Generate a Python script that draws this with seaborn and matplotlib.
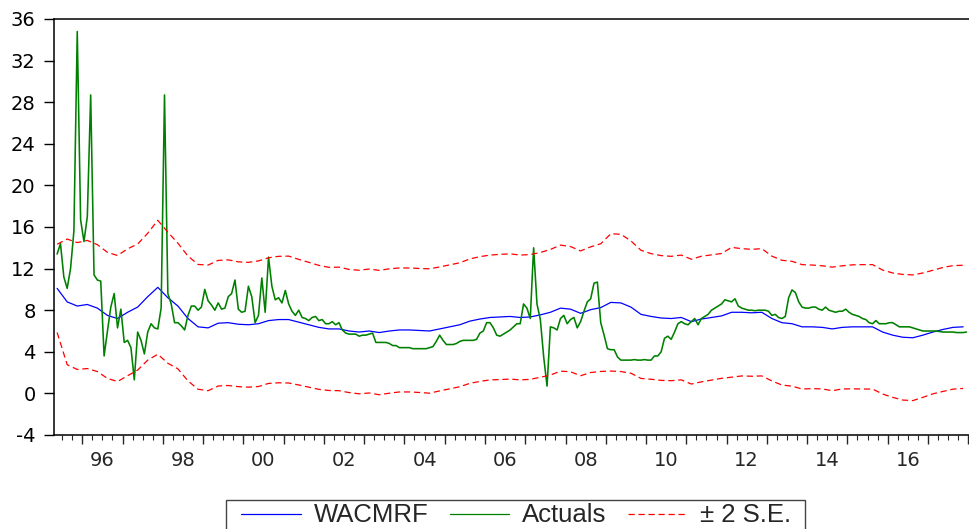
import numpy as np
import pandas as pd
import seaborn as sns
import matplotlib.pyplot as plt
from matplotlib.lines import Line2D
from matplotlib.patches import Rectangle
from matplotlib.ticker import MultipleLocator, NullFormatter, FuncFormatter

# Weighted average call money rate: monthly actuals, May 1995 - Dec 2017
start_year, start_month = 1995, 5
actuals = [
    13.4, 14.4, 11.2, 10.1, 12.0, 15.6, 34.8, 16.7, 14.6, 17.0,
    28.7, 11.4, 10.9, 10.8, 3.6, 6.0, 8.3, 9.6, 6.3, 8.1,
    4.9, 5.1, 4.4, 1.3, 5.9, 5.1, 3.8, 5.9, 6.7, 6.3,
    6.2, 8.2, 28.7, 9.6, 8.6, 6.8, 6.8, 6.5, 6.1, 7.5,
    8.4, 8.4, 8.0, 8.3, 10.0, 8.9, 8.5, 8.0, 8.7, 8.1,
    8.2, 9.3, 9.6, 10.9, 8.1, 7.8, 7.9, 10.3, 9.3, 6.8,
    7.5, 11.1, 7.8, 13.1, 10.3, 9.0, 9.2, 8.7, 9.9, 8.6,
    7.9, 7.5, 8.0, 7.3, 7.2, 7.0, 7.3, 7.4, 7.0, 7.1,
    6.7, 6.7, 6.9, 6.6, 6.8, 6.1, 5.8, 5.7, 5.7, 5.7,
    5.5, 5.6, 5.6, 5.7, 5.8, 4.9, 4.9, 4.9, 4.9, 4.8,
    4.6, 4.6, 4.4, 4.4, 4.4, 4.4, 4.3, 4.3, 4.3, 4.3,
    4.3, 4.4, 4.5, 5.0, 5.6, 5.1, 4.7, 4.7, 4.7, 4.8,
    5.0, 5.1, 5.1, 5.1, 5.1, 5.2, 5.8, 6.0, 6.8, 6.8,
    6.3, 5.6, 5.5, 5.7, 5.9, 6.1, 6.4, 6.7, 6.7, 8.6,
    8.2, 7.2, 14.0, 8.6, 7.1, 3.5, 0.7, 6.4, 6.3, 6.1,
    7.2, 7.5, 6.7, 7.1, 7.3, 6.3, 6.9, 7.9, 8.8, 9.1,
    10.6, 10.7, 6.8, 5.6, 4.3, 4.2, 4.2, 3.5, 3.2, 3.2,
    3.2, 3.2, 3.25, 3.2, 3.2, 3.25, 3.2, 3.2, 3.6, 3.6,
    4.0, 5.3, 5.5, 5.2, 5.9, 6.7, 6.9, 6.7, 6.6, 6.9,
    7.2, 6.6, 7.2, 7.4, 7.6, 8.0, 8.2, 8.4, 8.6, 9.0,
    8.9, 8.8, 9.1, 8.4, 8.2, 8.1, 8.0, 8.0, 7.95, 8.0,
    8.0, 8.0, 7.9, 7.5, 7.6, 7.3, 7.2, 7.4, 9.2, 9.95,
    9.7, 8.8, 8.3, 8.2, 8.2, 8.3, 8.3, 8.1, 8.0, 8.3,
    8.0, 7.9, 7.8, 7.9, 7.9, 8.1, 7.8, 7.6, 7.5, 7.4,
    7.2, 7.1, 6.8, 6.7, 7.0, 6.7, 6.7, 6.7, 6.8, 6.8,
    6.6, 6.4, 6.4, 6.4, 6.4, 6.3, 6.2, 6.1, 6.0, 6.0,
    6.0, 6.0, 6.0, 5.95, 5.9, 5.9, 5.9, 5.9, 5.85, 5.85,
    5.85, 5.9,
]

# Fitted WACMRF and its standard error, every third month from May 1995
forecast = [
    10.1, 8.8, 8.4, 8.55, 8.2, 7.5, 7.2, 7.8, 8.3, 9.3,
    10.2, 9.2, 8.4, 7.2, 6.4, 6.3, 6.75, 6.8, 6.65, 6.6,
    6.7, 7.0, 7.1, 7.1, 6.85, 6.6, 6.35, 6.2, 6.2, 6.0,
    5.9, 6.0, 5.85, 6.0, 6.1, 6.1, 6.05, 6.0, 6.2, 6.4,
    6.6, 6.95, 7.15, 7.3, 7.35, 7.4, 7.3, 7.35, 7.55, 7.8,
    8.2, 8.1, 7.7, 8.05, 8.25, 8.75, 8.7, 8.3, 7.6, 7.4,
    7.25, 7.2, 7.3, 6.9, 7.15, 7.3, 7.45, 7.8, 7.8, 7.75,
    7.8, 7.2, 6.8, 6.7, 6.4, 6.4, 6.35, 6.2, 6.35, 6.4,
    6.4, 6.4, 5.9, 5.6, 5.4, 5.35, 5.6, 5.9, 6.15, 6.35,
    6.4,
]
forecast_se = [
    2.12, 3.02, 3.05, 3.08, 3.05, 3.03, 3.03, 3.05, 3.03, 3.05,
    3.22, 3.15, 3.02, 3.0, 3.0, 3.02, 3.02, 3.02, 3.0, 3.0,
    3.02, 3.02, 3.04, 3.05, 3.02, 3.0, 2.98, 2.96, 2.97, 2.96,
    2.97, 2.98, 2.99, 2.99, 2.98, 2.98, 2.98, 2.99, 2.98, 2.98,
    2.98, 2.99, 3.0, 3.0, 3.01, 3.01, 3.0, 3.0, 3.0, 3.02,
    3.03, 3.01, 3.0, 3.02, 3.07, 3.3, 3.3, 3.18, 3.08, 3.02,
    3.0, 2.99, 3.0, 3.0, 3.02, 3.01, 3.0, 3.12, 3.06, 3.05,
    3.06, 3.0, 3.0, 3.0, 2.99, 2.97, 2.96, 2.97, 2.96, 2.98,
    2.99, 2.99, 2.98, 2.99, 3.02, 3.02, 2.99, 2.97, 2.98, 2.97,
    2.96,
]

year_labels = ["96", "98", "00", "02", "04", "06", "08", "10", "12", "14", "16"]
label_years = [1996, 1998, 2000, 2002, 2004, 2006, 2008, 2010, 2012, 2014, 2016]
y_ticks = [-4, 0, 4, 8, 12, 16, 20, 24, 28, 32, 36]

# Decimal-year positions (centre of each month)
t0 = start_year + (start_month - 0.5) / 12
actual_df = pd.DataFrame({
    "time": t0 + np.arange(len(actuals)) / 12,
    "value": actuals,
})
fc = np.array(forecast)
se = np.array(forecast_se)
fc_df = pd.DataFrame({
    "time": t0 + 3 * np.arange(len(forecast)) / 12,
    "forecast": fc,
    "upper": fc + 2 * se,
    "lower": fc - 2 * se,
})

sns.set_style("ticks")
plt.rcParams["font.family"] = ["DejaVu Sans"]

W, H = 970, 529
fig = plt.figure(figsize=(W / 100, H / 100), dpi=100)
ax = fig.add_axes([54.3 / W, (H - 435) / H, (971 - 54.3) / W, 416 / H])

blue, green, red = "#0000FF", "#008000", "#FF0000"
sns.lineplot(data=fc_df, x="time", y="forecast", color=blue, lw=0.9,
             estimator=None, sort=False, ax=ax)
sns.lineplot(data=actual_df, x="time", y="value", color=green, lw=1.15,
             estimator=None, sort=False, ax=ax)
for col in ("upper", "lower"):
    sns.lineplot(data=fc_df, x="time", y=col, color=red, lw=0.9,
                 estimator=None, sort=False, ax=ax)
    ax.lines[-1].set_dashes([5, 3])

ax.set_xlim(1995.305, 2018.07)
ax.set_ylim(-4, 36)
ax.set_xlabel("")
ax.set_ylabel("")

# y axis
ax.set_yticks(y_ticks)
ax.set_yticklabels([str(v) for v in y_ticks])
ax.tick_params(axis="y", direction="out", length=7, width=1, pad=6.5,
               labelsize=14, colors="black")

# x axis: long ticks at year boundaries, short quarter ticks, labels mid-year
label_map = {y + 0.5: lab for y, lab in zip(label_years, year_labels)}


def mid_year_label(val, pos):
    for k, lab in label_map.items():
        if abs(val - k) < 1e-6:
            return lab
    return ""


ax.xaxis.set_major_locator(MultipleLocator(1))
ax.xaxis.set_major_formatter(NullFormatter())
ax.xaxis.set_minor_locator(MultipleLocator(0.25))
ax.xaxis.set_minor_formatter(FuncFormatter(mid_year_label))
ax.tick_params(axis="x", which="major", direction="out", length=6.5, width=1)
ax.tick_params(axis="x", which="minor", direction="out", length=3.6, width=0.8,
               pad=8.0, labelsize=14)

for side in ("left", "top", "bottom"):
    ax.spines[side].set_visible(True)
    ax.spines[side].set_color("black")
    ax.spines[side].set_linewidth(1.1)
ax.spines["right"].set_visible(False)

# Legend row below the plot, with its own box running off the bottom edge
handles = [
    Line2D([], [], color=blue, lw=0.9),
    Line2D([], [], color=green, lw=0.9),
    Line2D([], [], color=red, lw=0.9, dashes=[5, 3]),
]
fig.legend(handles, ["WACMRF", "Actuals", "\u00b1 2 S.E."],
           loc="center left", bbox_to_anchor=(241.5 / W, 1 - 515.5 / H),
           ncol=3, frameon=False,
           prop={"family": "Liberation Sans", "size": 18.5},
           handlelength=2.3, handletextpad=0.5, columnspacing=0.84,
           borderpad=0, borderaxespad=0)
fig.add_artist(Rectangle((226 / W, -0.1), (805 - 226) / W, (H - 500) / H + 0.1,
                         transform=fig.transFigure, fill=False,
                         edgecolor="#444444", linewidth=1.0))

fig.savefig("out.png", dpi=100)
